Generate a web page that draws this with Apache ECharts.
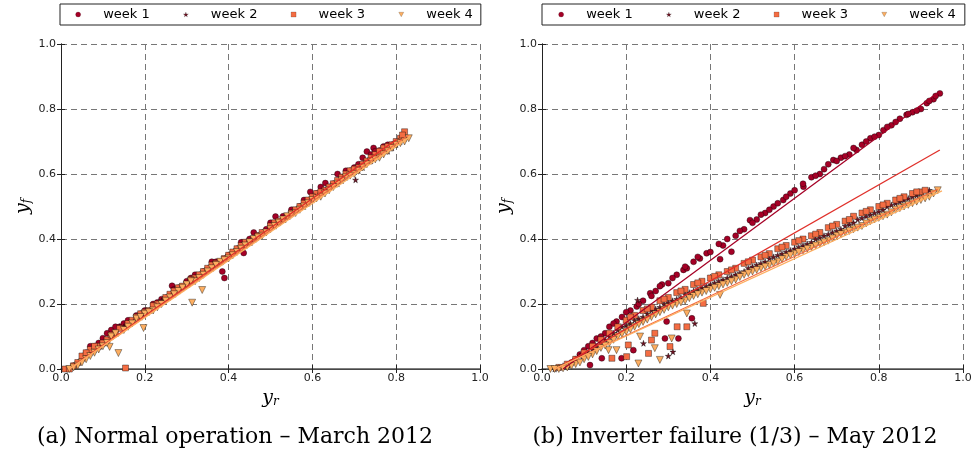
<!DOCTYPE html>
<html>
<head>
<meta charset="utf-8">
<script src="https://cdn.jsdelivr.net/npm/echarts@6/dist/echarts.min.js"></script>
<style>html,body{margin:0;padding:0;background:#fff}#c{width:976px;height:459px}</style>
</head>
<body>
<div id="c"></div>
<script>
// ---------- data (y_r, y_f) ----------
var seriesNames = ['week 1', 'week 2', 'week 3', 'week 4'];
var tickLabels = ['0.0', '0.2', '0.4', '0.6', '0.8', '1.0'];
var captions = ['(a) Normal operation \u2013 March 2012', '(b) Inverter failure (1/3) \u2013 May 2012'];

// (a) Normal operation - March 2012
var a_week1 = [[0.03,0.01],[0.05,0.03],[0.07,0.07],[0.09,0.08],[0.10,0.095],[0.12,0.12],[0.14,0.13],[0.16,0.15],[0.18,0.165],[0.20,0.18],[0.22,0.20],[0.24,0.215],[0.265,0.256],[0.28,0.25],[0.30,0.27],[0.32,0.29],[0.34,0.30],[0.36,0.33],[0.385,0.30],[0.39,0.28],[0.40,0.35],[0.42,0.37],[0.436,0.357],[0.45,0.40],[0.47,0.41],[0.49,0.43],[0.512,0.469],[0.53,0.47],[0.55,0.49],[0.57,0.50],[0.595,0.545],[0.61,0.54],[0.631,0.572],[0.65,0.57],[0.67,0.59],[0.69,0.61],[0.71,0.63],[0.73,0.669],[0.746,0.68],[0.76,0.672],[0.78,0.69],[0.79,0.69],
  [0.58,0.52],[0.62,0.56],[0.66,0.60],[0.68,0.61],[0.70,0.62],[0.72,0.65],[0.74,0.66],[0.75,0.67],[0.77,0.685],[0.54,0.47],[0.50,0.45],[0.46,0.42],[0.43,0.39],[0.37,0.33],[0.31,0.28],[0.27,0.245],[0.23,0.205],[0.19,0.17],[0.15,0.14],[0.11,0.11],[0.08,0.07],[0.06,0.05],[0.13,0.13]];
var a_week2 = [[0.02,0.0],[0.04,0.02],[0.06,0.04],[0.08,0.06],[0.10,0.08],[0.12,0.10],[0.14,0.13],[0.16,0.14],[0.18,0.16],[0.20,0.17],[0.22,0.19],[0.25,0.22],[0.27,0.23],[0.29,0.25],[0.31,0.27],[0.33,0.29],[0.35,0.31],[0.37,0.32],[0.39,0.34],[0.41,0.36],[0.43,0.37],[0.45,0.39],[0.47,0.41],[0.50,0.44],[0.52,0.45],[0.54,0.47],[0.56,0.49],[0.58,0.50],[0.60,0.52],[0.62,0.54],[0.64,0.56],[0.66,0.57],[0.68,0.59],[0.703,0.582],[0.72,0.62],[0.74,0.64],[0.76,0.66],[0.78,0.67],[0.80,0.69],[0.81,0.70],
  [0.03,0.01],[0.07,0.05],[0.11,0.09],[0.15,0.13],[0.19,0.16],[0.24,0.21],[0.28,0.24],[0.32,0.28],[0.36,0.31],[0.40,0.35],[0.44,0.38],[0.48,0.42],[0.51,0.44],[0.55,0.48],[0.59,0.51],[0.63,0.55],[0.67,0.58],[0.71,0.61],[0.75,0.65],[0.79,0.68],[0.82,0.71]];
var a_week3 = [[0.01,0.0],[0.03,0.01],[0.05,0.04],[0.07,0.06],[0.09,0.07],[0.11,0.09],[0.13,0.11],[0.154,0.003],[0.17,0.15],[0.19,0.17],[0.21,0.18],[0.23,0.20],[0.26,0.23],[0.28,0.25],[0.30,0.26],[0.32,0.28],[0.34,0.30],[0.36,0.32],[0.38,0.33],[0.40,0.35],[0.42,0.37],[0.44,0.39],[0.46,0.40],[0.48,0.42],[0.51,0.45],[0.53,0.46],[0.55,0.48],[0.57,0.50],[0.59,0.52],[0.61,0.54],[0.63,0.55],[0.65,0.57],[0.67,0.59],[0.69,0.61],[0.71,0.62],[0.73,0.64],[0.75,0.66],[0.77,0.68],[0.79,0.69],[0.81,0.71],[0.82,0.73],
  [0.02,0.0],[0.04,0.02],[0.06,0.05],[0.08,0.07],[0.10,0.08],[0.12,0.105],[0.14,0.125],[0.16,0.14],[0.18,0.16],[0.20,0.175],[0.22,0.195],[0.25,0.22],[0.27,0.24],[0.29,0.255],[0.31,0.275],[0.33,0.29],[0.35,0.31],[0.37,0.325],[0.39,0.34],[0.41,0.36],[0.43,0.38],[0.45,0.39],[0.47,0.41],[0.50,0.44],[0.52,0.455],[0.54,0.47],[0.56,0.49],[0.58,0.51],[0.60,0.53],[0.62,0.545],[0.64,0.56],[0.66,0.58],[0.68,0.60],[0.70,0.615],[0.72,0.63],[0.74,0.65],[0.76,0.67],[0.78,0.685],[0.80,0.70],[0.815,0.72]];
var a_week4 = [[0.02,0.0],[0.04,0.01],[0.06,0.03],[0.08,0.05],[0.10,0.07],[0.116,0.068],[0.12,0.10],[0.137,0.049],[0.15,0.12],[0.17,0.14],[0.197,0.126],[0.20,0.17],[0.22,0.18],[0.24,0.20],[0.26,0.22],[0.28,0.24],[0.30,0.26],[0.313,0.204],[0.32,0.27],[0.337,0.243],[0.34,0.29],[0.36,0.31],[0.38,0.33],[0.40,0.34],[0.42,0.36],[0.44,0.38],[0.46,0.40],[0.48,0.41],[0.50,0.43],[0.52,0.45],[0.54,0.47],[0.56,0.48],[0.58,0.50],[0.60,0.52],[0.62,0.53],[0.64,0.55],[0.66,0.57],[0.68,0.59],[0.70,0.60],[0.72,0.62],[0.74,0.64],[0.76,0.65],[0.78,0.67],[0.80,0.69],[0.83,0.71],
  [0.03,0.005],[0.05,0.02],[0.07,0.04],[0.09,0.06],[0.11,0.08],[0.13,0.11],[0.16,0.13],[0.18,0.155],[0.19,0.16],[0.21,0.175],[0.23,0.19],[0.25,0.21],[0.27,0.23],[0.29,0.25],[0.31,0.27],[0.33,0.28],[0.35,0.30],[0.37,0.32],[0.39,0.335],[0.41,0.35],[0.43,0.37],[0.45,0.39],[0.47,0.405],[0.49,0.42],[0.51,0.44],[0.53,0.46],[0.55,0.475],[0.57,0.49],[0.59,0.51],[0.61,0.525],[0.63,0.54],[0.65,0.56],[0.67,0.58],[0.69,0.595],[0.71,0.61],[0.73,0.63],[0.75,0.645],[0.77,0.66],[0.79,0.68],[0.81,0.695],[0.82,0.70]];
var a_fitRed = [[0.03,0.01],[0.80,0.705]];
var a_fitOrange = [[0.02,0.0],[0.83,0.72]];
var a_fitLight = [[0.02,0.0],[0.83,0.712]];

// (b) Inverter failure (1/3) - May 2012
var b_week1 = [[0.06,0.01],[0.08,0.03],[0.10,0.058],[0.12,0.08],[0.13,0.094],[0.15,0.11],[0.16,0.13],[0.177,0.146],[0.19,0.16],[0.21,0.18],[0.225,0.192],[0.24,0.21],[0.257,0.233],[0.27,0.24],[0.285,0.26],[0.30,0.264],[0.32,0.29],[0.336,0.305],[0.344,0.31],[0.36,0.33],[0.375,0.34],[0.391,0.356],[0.40,0.36],[0.423,0.338],[0.43,0.38],[0.45,0.361],[0.46,0.41],[0.48,0.43],[0.494,0.458],[0.51,0.46],[0.53,0.48],[0.55,0.50],[0.573,0.52],[0.59,0.54],[0.60,0.55],[0.621,0.561],[0.64,0.59],[0.66,0.60],[0.68,0.63],[0.692,0.643],[0.71,0.65],[0.73,0.66],[0.747,0.674],[0.76,0.69],[0.78,0.71],[0.80,0.72],[0.811,0.735],[0.83,0.75],[0.85,0.77],[0.866,0.782],[0.88,0.79],[0.90,0.80],[0.914,0.818],[0.93,0.83],[0.945,0.848],[0.114,0.012],[0.142,0.033],[0.189,0.033],[0.217,0.058],[0.296,0.146],[0.292,0.094],[0.324,0.094],[0.356,0.156],
  [0.07,0.02],[0.09,0.045],[0.11,0.07],[0.14,0.10],[0.17,0.14],[0.20,0.175],[0.23,0.20],[0.26,0.225],[0.28,0.255],[0.31,0.28],[0.34,0.315],[0.37,0.345],[0.42,0.385],[0.44,0.40],[0.47,0.425],[0.50,0.45],[0.52,0.475],[0.54,0.49],[0.56,0.51],[0.58,0.53],[0.62,0.57],[0.65,0.595],[0.67,0.615],[0.70,0.64],[0.72,0.655],[0.74,0.68],[0.77,0.70],[0.79,0.715],[0.82,0.745],[0.84,0.76],[0.87,0.785],[0.89,0.795],[0.92,0.825],[0.935,0.84]];
var b_week2 = [[0.03,0.0],[0.05,0.01],[0.07,0.02],[0.09,0.04],[0.11,0.05],[0.13,0.07],[0.15,0.09],[0.17,0.11],[0.19,0.13],[0.227,0.212],[0.21,0.14],[0.23,0.155],[0.25,0.17],[0.27,0.185],[0.29,0.20],[0.31,0.21],[0.33,0.22],[0.35,0.235],[0.37,0.245],[0.39,0.255],[0.41,0.265],[0.43,0.275],[0.45,0.285],[0.47,0.295],[0.49,0.31],[0.51,0.32],[0.53,0.33],[0.55,0.345],[0.57,0.355],[0.59,0.365],[0.61,0.375],[0.63,0.385],[0.65,0.40],[0.67,0.41],[0.69,0.42],[0.71,0.43],[0.73,0.445],[0.75,0.46],[0.77,0.47],[0.79,0.48],[0.81,0.49],[0.83,0.505],[0.85,0.515],[0.87,0.525],[0.89,0.535],[0.92,0.55],[0.241,0.079],[0.311,0.053],[0.363,0.14],[0.30,0.04],
  [0.04,0.005],[0.06,0.015],[0.08,0.03],[0.10,0.045],[0.12,0.06],[0.14,0.08],[0.16,0.10],[0.18,0.12],[0.20,0.135],[0.22,0.15],[0.24,0.16],[0.26,0.18],[0.28,0.19],[0.30,0.205],[0.32,0.215],[0.34,0.23],[0.36,0.24],[0.38,0.25],[0.40,0.26],[0.42,0.27],[0.44,0.28],[0.46,0.29],[0.48,0.30],[0.50,0.315],[0.52,0.325],[0.54,0.34],[0.56,0.35],[0.58,0.36],[0.60,0.37],[0.62,0.38],[0.64,0.39],[0.66,0.405],[0.68,0.415],[0.70,0.425],[0.72,0.44],[0.74,0.45],[0.76,0.465],[0.78,0.475],[0.80,0.485],[0.82,0.50],[0.84,0.51],[0.86,0.52],[0.88,0.53],[0.90,0.54]];
var b_week3 = [[0.04,0.005],[0.06,0.015],[0.08,0.03],[0.10,0.05],[0.12,0.07],[0.14,0.09],[0.16,0.11],[0.18,0.13],[0.20,0.15],[0.22,0.165],[0.24,0.18],[0.26,0.19],[0.28,0.21],[0.30,0.22],[0.32,0.235],[0.34,0.245],[0.36,0.26],[0.38,0.27],[0.40,0.28],[0.42,0.29],[0.44,0.30],[0.46,0.31],[0.48,0.325],[0.50,0.335],[0.52,0.345],[0.54,0.355],[0.56,0.37],[0.58,0.38],[0.60,0.39],[0.62,0.40],[0.64,0.41],[0.66,0.42],[0.68,0.435],[0.70,0.445],[0.72,0.455],[0.74,0.47],[0.76,0.48],[0.78,0.49],[0.80,0.50],[0.82,0.51],[0.84,0.52],[0.86,0.53],[0.88,0.54],[0.90,0.545],[0.166,0.033],[0.201,0.038],[0.205,0.074],[0.253,0.048],[0.26,0.089],[0.268,0.11],[0.304,0.069],[0.321,0.13],[0.344,0.13],[0.383,0.202],
  [0.21,0.16],[0.25,0.185],[0.29,0.215],[0.33,0.24],[0.37,0.265],[0.41,0.285],[0.45,0.305],[0.49,0.33],[0.53,0.35],[0.57,0.375],[0.61,0.395],[0.65,0.415],[0.69,0.44],[0.73,0.46],[0.77,0.485],[0.81,0.505],[0.85,0.525],[0.89,0.545],[0.91,0.55]];
var b_week4 = [[0.02,0.0],[0.04,0.0],[0.06,0.005],[0.08,0.015],[0.10,0.03],[0.12,0.045],[0.14,0.065],[0.16,0.08],[0.18,0.10],[0.20,0.115],[0.22,0.13],[0.24,0.145],[0.26,0.16],[0.28,0.175],[0.30,0.19],[0.32,0.20],[0.34,0.21],[0.36,0.225],[0.38,0.235],[0.40,0.245],[0.42,0.255],[0.44,0.265],[0.46,0.275],[0.48,0.29],[0.50,0.30],[0.52,0.31],[0.54,0.32],[0.56,0.33],[0.58,0.345],[0.60,0.355],[0.62,0.365],[0.64,0.375],[0.66,0.385],[0.68,0.395],[0.70,0.41],[0.72,0.42],[0.74,0.43],[0.76,0.44],[0.78,0.455],[0.80,0.465],[0.82,0.475],[0.84,0.49],[0.86,0.50],[0.88,0.51],[0.90,0.52],[0.92,0.53],[0.94,0.55],[0.158,0.058],[0.177,0.058],[0.229,0.017],[0.233,0.1],[0.268,0.064],[0.28,0.028],[0.308,0.094],[0.344,0.171],[0.423,0.228],
  [0.03,0.0],[0.05,0.002],[0.07,0.01],[0.09,0.02],[0.11,0.037],[0.13,0.055],[0.15,0.072],[0.17,0.09],[0.19,0.108],[0.21,0.122],[0.23,0.138],[0.25,0.152],[0.27,0.168],[0.29,0.182],[0.31,0.195],[0.33,0.205],[0.35,0.218],[0.37,0.23],[0.39,0.24],[0.41,0.25],[0.43,0.26],[0.45,0.27],[0.47,0.283],[0.49,0.295],[0.51,0.305],[0.53,0.315],[0.55,0.325],[0.57,0.338],[0.59,0.35],[0.61,0.36],[0.63,0.37],[0.65,0.38],[0.67,0.39],[0.69,0.402],[0.71,0.415],[0.73,0.425],[0.75,0.435],[0.77,0.448],[0.79,0.46],[0.81,0.47],[0.83,0.482],[0.85,0.495],[0.87,0.505],[0.89,0.515],[0.91,0.525],[0.93,0.54]];
var b_fitWeek1 = [[0.05,0.0],[0.94,0.85]];
var b_fitRed = [[0.04,0.005],[0.945,0.674]];
var b_fitOrange = [[0.03,0.0],[0.94,0.553]];
var b_fitLight = [[0.03,0.0],[0.95,0.548]];

// ---------- styling ----------
var colors = ['#a50026', '#6e1423', '#f46d43', '#fdae61'];
var starPath = 'path://M50,0 L61,35 L98,35 L68,57 L79,91 L50,70 L21,91 L32,57 L2,35 L39,35 Z';
var triDownPath = 'path://M0,0 L10,0 L5,9 Z';
var symbols = ['circle', starPath, 'rect', triDownPath];
var sizes = [6, 6, 6, 7];

var chart = echarts.init(document.getElementById('c'), null, {renderer: 'canvas'});

function scatter(idx, data, axisIdx) {
  return {
    type: 'scatter', name: seriesNames[idx], data: data,
    xAxisIndex: axisIdx, yAxisIndex: axisIdx,
    symbol: symbols[idx], symbolSize: sizes[idx],
    itemStyle: {color: colors[idx], borderColor: 'rgba(0,0,0,0.75)', borderWidth: 0.5, opacity: 1},
    emphasis: {disabled: true}, silent: true, z: 2 + idx, animation: false
  };
}
function fit(data, color, axisIdx, width) {
  return {
    type: 'line', data: data, xAxisIndex: axisIdx, yAxisIndex: axisIdx,
    symbol: 'none', lineStyle: {color: color, width: width || 1.3},
    silent: true, z: 10, animation: false
  };
}

var labelFont = {fontFamily: 'DejaVu Sans', fontSize: 11, color: '#222'};
var nameRich = {
  v: {fontFamily: 'DejaVu Serif', fontStyle: 'italic', fontSize: 19, color: '#000', verticalAlign: 'bottom'},
  s: {fontFamily: 'DejaVu Serif', fontStyle: 'italic', fontSize: 12, color: '#000', verticalAlign: 'bottom'}
};

function xAxisMain(gi) {
  return {
    type: 'value', gridIndex: gi, min: 0, max: 1, interval: 0.2, position: 'bottom',
    name: '{v|y}{s|r}', nameLocation: 'middle', nameGap: 19, nameTextStyle: {rich: nameRich},
    axisLine: {show: true, lineStyle: {color: '#222', width: 1}},
    axisTick: {show: true, inside: true, length: 4, lineStyle: {color: '#222'}},
    axisLabel: Object.assign({margin: 4, formatter: function (v) { return tickLabels[Math.round(v * 5)]; }}, labelFont),
    splitLine: {show: true, lineStyle: {color: '#777', type: [6, 4], width: 1}}
  };
}
function yAxisMain(gi) {
  return {
    type: 'value', gridIndex: gi, min: 0, max: 1, interval: 0.2, position: 'left',
    name: '{v|y}{s|f}', nameLocation: 'middle', nameGap: 28, nameRotate: 90, nameTextStyle: {rich: nameRich},
    axisLine: {show: true, lineStyle: {color: '#222', width: 1}},
    axisTick: {show: true, inside: true, length: 4, lineStyle: {color: '#222'}},
    axisLabel: Object.assign({margin: 5, formatter: function (v) { return tickLabels[Math.round(v * 5)]; }}, labelFont),
    splitLine: {show: true, lineStyle: {color: '#777', type: [6, 4], width: 1}}
  };
}
function xAxisTop(gi) {
  return {type: 'value', gridIndex: gi, min: 0, max: 1, interval: 0.2, position: 'top',
    axisLine: {show: true, lineStyle: {color: '#555', width: 1.5}},
    axisTick: {show: true, inside: true, length: 4, lineStyle: {color: '#222'}},
    axisLabel: {show: false}, splitLine: {show: false}};
}
function yAxisRight(gi) {
  return {type: 'value', gridIndex: gi, min: 0, max: 1, interval: 0.2, position: 'right',
    axisLine: {show: true, lineStyle: {color: '#222', width: 1}},
    axisTick: {show: true, inside: true, length: 4, lineStyle: {color: '#222'}},
    axisLabel: {show: false}, splitLine: {show: false}};
}
function legendData() {
  return seriesNames.map(function (n, i) {
    return {name: n, icon: symbols[i],
      itemStyle: {color: colors[i], borderColor: 'rgba(0,0,0,0.6)', borderWidth: 0.3, opacity: 1}};
  });
}
function legend(left, padLeft, padRight) {
  return {
    left: left, top: 4, orient: 'horizontal', data: legendData(),
    itemWidth: 5, itemHeight: 5, itemGap: 33.5,
    padding: [4, padRight, 4, padLeft],
    borderColor: '#222', borderWidth: 1, borderRadius: 0,
    formatter: function (name) { return '{g|}{n|' + name + '}'; },
    textStyle: {fontFamily: 'DejaVu Sans', fontSize: 13, color: '#000',
      rich: {g: {width: 17.5}, n: {fontFamily: 'DejaVu Sans', fontSize: 13, color: '#000'}}},
    selectedMode: false, inactiveColor: '#000'
  };
}

var option = {
  animation: false,
  backgroundColor: '#fff',
  legend: [legend(60, 15.5, 8), legend(542, 16.5, 9)],
  grid: [
    {left: 61, top: 44, width: 419, height: 325, containLabel: false},
    {left: 542, top: 44, width: 421, height: 325, containLabel: false}
  ],
  xAxis: [xAxisMain(0), xAxisMain(1), xAxisTop(0), xAxisTop(1)],
  yAxis: [yAxisMain(0), yAxisMain(1), yAxisRight(0), yAxisRight(1)],
  series: [
    scatter(0, a_week1, 0), scatter(1, a_week2, 0), scatter(2, a_week3, 0), scatter(3, a_week4, 0),
    fit(a_fitRed, '#e0302a', 0), fit(a_fitOrange, '#f46d43', 0), fit(a_fitLight, '#fdae61', 0),
    scatter(0, b_week1, 1), scatter(1, b_week2, 1), scatter(2, b_week3, 1), scatter(3, b_week4, 1),
    fit(b_fitWeek1, '#a50026', 1), fit(b_fitRed, '#e0302a', 1), fit(b_fitOrange, '#f46d43', 1), fit(b_fitLight, '#fdae61', 1)
  ],
  graphic: [
    {type: 'text', x: 235, y: 437, silent: true,
     style: {text: captions[0], font: '22px "DejaVu Serif"', fill: '#000', textAlign: 'center', textVerticalAlign: 'middle'}},
    {type: 'text', x: 735, y: 437, silent: true,
     style: {text: captions[1], font: '22px "DejaVu Serif"', fill: '#000', textAlign: 'center', textVerticalAlign: 'middle'}}
  ]
};
chart.setOption(option);
</script>
</body>
</html>
